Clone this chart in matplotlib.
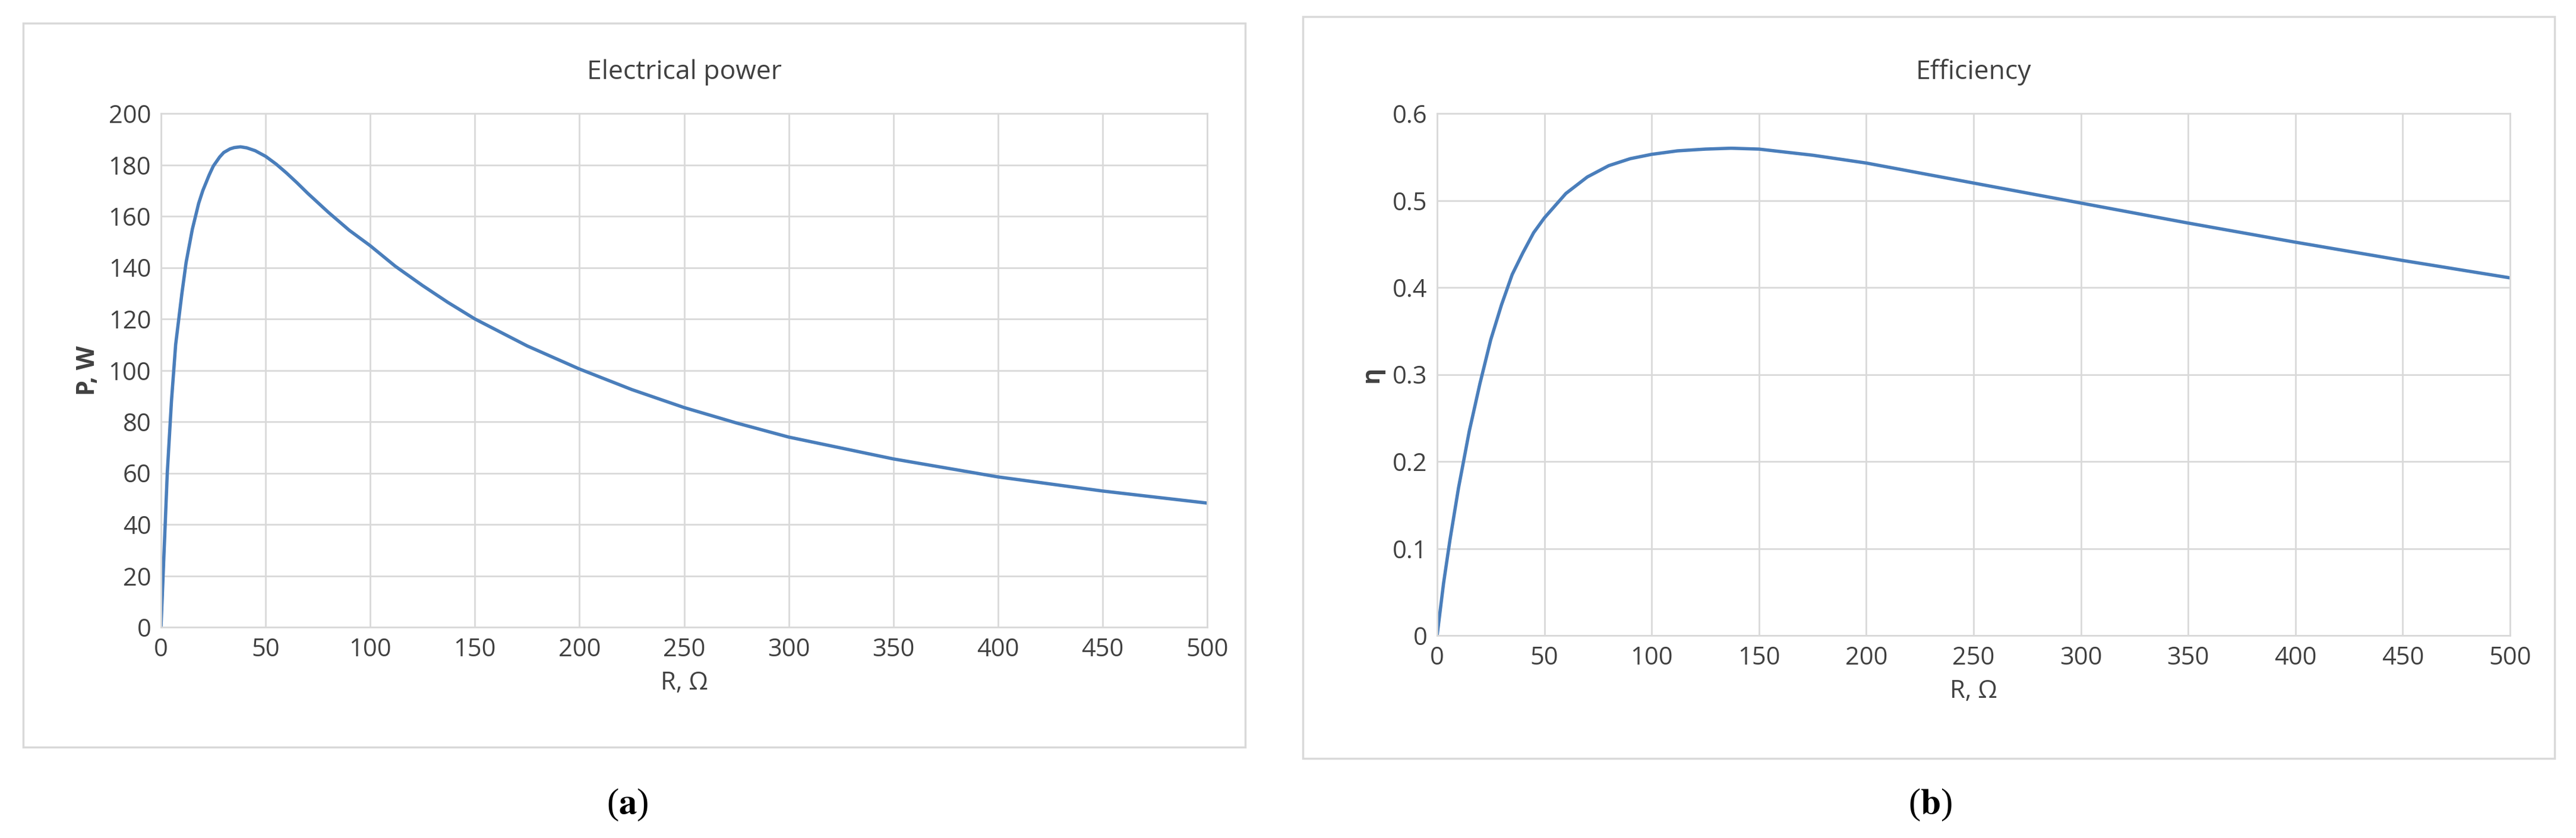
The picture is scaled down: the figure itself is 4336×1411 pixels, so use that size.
import matplotlib.pyplot as plt
from matplotlib.patches import Rectangle

plt.rcParams['font.family'] = ['Open Sans', 'DejaVu Sans']
plt.rcParams['mathtext.fontset'] = 'stix'

# Electrical power vs load resistance
r_power = [0, 1, 2, 3, 5, 7, 10, 12, 15, 18, 20, 23, 25, 28, 30, 33, 35, 38, 41, 45, 50,
           55, 60, 65, 70, 80, 90, 100, 112, 125, 137, 150, 175, 200, 225, 250, 275,
           300, 350, 400, 450, 500]
power = [0, 20, 40, 60, 88, 110, 130, 142, 155, 165, 170, 176, 179.5, 183, 184.8, 186.2, 186.7,
         187, 186.6, 185.5, 183.3, 180.3, 176.8, 173, 169, 161.5, 154.5, 148.5, 140.5,
         133, 126.5, 120, 109.5, 100.5, 92.5, 85.5, 79.5, 74, 65.5, 58.5, 53, 48.3]

# Efficiency vs load resistance
r_eff = [0, 3, 6, 10, 15, 20, 25, 30, 35, 40, 45, 50, 60, 70, 80, 90, 100, 112, 125,
         137, 150, 175, 200, 250, 300, 350, 400, 450, 500]
eff = [0, 0.06, 0.11, 0.17, 0.235, 0.29, 0.34, 0.38, 0.415, 0.44, 0.463, 0.48, 0.508,
       0.527, 0.54, 0.548, 0.553, 0.557, 0.559, 0.56, 0.559, 0.552, 0.543, 0.52,
       0.497, 0.474, 0.452, 0.431, 0.411]

W, H = 4336, 1411
fig = plt.figure(figsize=(W / 100, H / 100), dpi=100)

line_c = '#4A7EBB'
grid_c = '#D9D9D9'
fs = 30


def box(x0, y0, x1, y1):
    fig.patches.append(Rectangle((x0 / W, 1 - y1 / H), (x1 - x0) / W, (y1 - y0) / H,
                                 transform=fig.transFigure, fill=False,
                                 edgecolor='#D9D9D9', linewidth=2.5))


def setup(ax, title, ylabel, yticks, ylim, ylabels):
    ax.set_xlim(0, 500)
    ax.set_ylim(*ylim)
    ax.set_xticks(range(0, 501, 50))
    ax.set_yticks(yticks)
    ax.set_yticklabels(ylabels)
    ax.grid(True, color=grid_c, linewidth=2)
    ax.set_axisbelow(True)
    for s in ax.spines.values():
        s.set_color(grid_c)
        s.set_linewidth(2)
    ax.tick_params(length=0, labelsize=fs, colors='#404040', pad=12)
    ax.set_xlabel('R, Ω', fontsize=fs, color='#404040', labelpad=10)
    ax.set_ylabel(ylabel, fontsize=fs, color='#404040', fontweight='bold', labelpad=10)
    ax.set_title(title, fontsize=32, color='#404040', pad=42)


box(39, 39, 2096, 1258)
box(2193, 28, 4300, 1277)

ax1 = fig.add_axes([271 / W, 1 - 1056 / H, (2032 - 271) / W, (1056 - 191) / H])
ax1.plot(r_power, power, color=line_c, linewidth=4)
setup(ax1, 'Electrical power', 'P, W', range(0, 201, 20), (0, 200),
      [str(v) for v in range(0, 201, 20)])

ax2 = fig.add_axes([2419 / W, 1 - 1070 / H, (4225 - 2419) / W, (1070 - 191) / H])
ax2.plot(r_eff, eff, color=line_c, linewidth=4)
yt = [i / 10 for i in range(7)]
setup(ax2, 'Efficiency', 'η', yt, (0, 0.6), ['0'] + [f'{v:.1f}' for v in yt[1:]])

fig.text(1056 / W, 1 - 1355 / H, r'($\mathbf{a}$)', ha='center', va='center', fontsize=44,
         family=['Liberation Serif'])
fig.text(3249 / W, 1 - 1355 / H, r'($\mathbf{b}$)', ha='center', va='center', fontsize=44,
         family=['Liberation Serif'])

fig.savefig('out.png', dpi=100)
